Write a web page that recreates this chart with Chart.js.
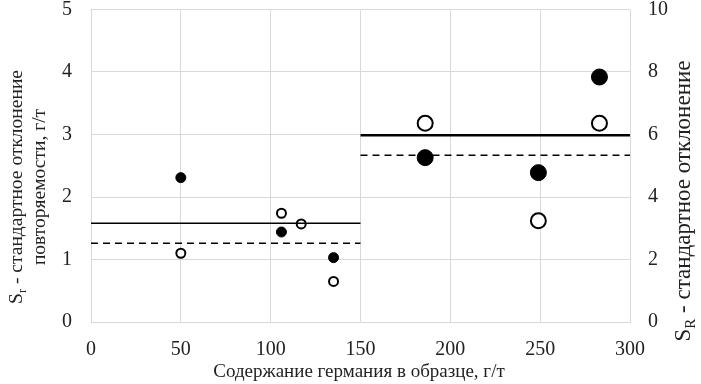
<!DOCTYPE html>
<html>
<head>
<meta charset="utf-8">
<script src="https://cdn.jsdelivr.net/npm/chart.js@4"></script>
<style>
  html, body { margin: 0; padding: 0; background: #fff; }
  #wrap { width: 701px; height: 384px; }
</style>
</head>
<body>
<div id="wrap"><canvas id="chart"></canvas></div>
<script>
// small samples (< 150 g/t)
var xSmall = [50, 106, 135];
var srSmall = [2.31, 1.44, 1.03];          // filled
var xSmallOpen = [50, 106, 117, 135];
var sRSmall = [1.10, 1.74, 1.57, 0.65];    // open

// large samples (> 150 g/t)
var xLarge = [186, 249, 283];
var srLarge = [2.63, 2.39, 3.92];          // filled
var sRLarge = [3.18, 1.62, 3.18];          // open

// horizontal levels
var lowRange = [0, 150];
var highRange = [150, 300];
var solidLow = 1.58, dashedLow = 1.26;
var solidHigh = 2.99, dashedHigh = 2.67;

var xTicks = [0, 50, 100, 150, 200, 250, 300];

function pts(xs, ys) {
    return xs.map(function (x, i) { return { x: x, y: ys[i] }; });
}
function seg(range, v) {
    return [{ x: range[0], y: v }, { x: range[1], y: v }];
}

var FONT = "'Liberation Serif', 'Times New Roman', serif";

// axis titles with subscripts
var titlesPlugin = {
    id: 'titles',
    afterDraw: function (chart) {
        var ctx = chart.ctx;
        function subText(x, y, size, parts) {
            ctx.save();
            ctx.translate(x, y);
            ctx.rotate(-Math.PI / 2);
            ctx.fillStyle = '#222';
            ctx.textBaseline = 'middle';
            ctx.textAlign = 'left';
            var total = 0;
            parts.forEach(function (p) {
                ctx.font = (p.sub ? size * 0.65 : size) + 'px ' + FONT;
                total += ctx.measureText(p.t).width;
            });
            var pos = -total / 2;
            parts.forEach(function (p) {
                ctx.font = (p.sub ? size * 0.65 : size) + 'px ' + FONT;
                ctx.fillText(p.t, pos, p.sub ? size * 0.3 : 0);
                pos += ctx.measureText(p.t).width;
            });
            ctx.restore();
        }
        subText(17, 187, 19.5, [{ t: 'S' }, { t: 'r', sub: true }, { t: ' - стандартное отклонение' }]);
        subText(40, 187, 19.5, [{ t: 'повторяемости, г/т' }]);
        subText(684, 201, 23, [{ t: 'S' }, { t: 'R', sub: true }, { t: ' - стандартное отклонение' }]);

        ctx.save();
        ctx.font = '19px ' + FONT;
        ctx.fillStyle = '#222';
        ctx.textAlign = 'center';
        ctx.textBaseline = 'middle';
        ctx.fillText('Содержание германия в образце, г/т', 359, 372);
        ctx.restore();
    }
};

var bgPlugin = {
    id: 'bg',
    beforeDraw: function (chart) {
        var ctx = chart.ctx;
        ctx.save();
        ctx.fillStyle = '#fff';
        ctx.fillRect(0, 0, chart.width, chart.height);
        ctx.restore();
    }
};

var ctx = document.getElementById('chart').getContext('2d');
new Chart(ctx, {
    type: 'scatter',
    data: {
        datasets: [
            { type: 'line', data: seg(lowRange, solidLow), borderColor: '#000', borderWidth: 1.5, pointRadius: 0 },
            { type: 'line', data: seg(lowRange, dashedLow), borderColor: '#000', borderWidth: 1.5, borderDash: [7, 5], pointRadius: 0 },
            { type: 'line', data: seg(highRange, solidHigh), borderColor: '#000', borderWidth: 2.5, pointRadius: 0 },
            { type: 'line', data: seg(highRange, dashedHigh), borderColor: '#000', borderWidth: 1.5, borderDash: [7, 5], pointRadius: 0 },
            { data: pts(xSmall, srSmall), pointRadius: 5, backgroundColor: '#000', borderColor: '#000', borderWidth: 1 },
            { data: pts(xSmallOpen, sRSmall), pointRadius: 4.5, backgroundColor: '#fff', borderColor: '#000', borderWidth: 2 },
            { data: pts(xLarge, srLarge), pointRadius: 8, backgroundColor: '#000', borderColor: '#000', borderWidth: 1 },
            { data: pts(xLarge, sRLarge), pointRadius: 7.5, backgroundColor: '#fff', borderColor: '#000', borderWidth: 2 }
        ]
    },
    options: {
        responsive: true,
        maintainAspectRatio: false,
        animation: false,
        layout: { padding: { top: 7, left: 0, right: 0, bottom: 0 } },
        plugins: { legend: { display: false }, tooltip: { enabled: false } },
        scales: {
            x: {
                type: 'linear', min: 0, max: 300,
                afterBuildTicks: function (s) { s.ticks = xTicks.map(function (v) { return { value: v }; }); },
                afterFit: function (s) { s.height = 62; },
                grid: { color: '#d9d9d9', lineWidth: 1, drawTicks: false },
                border: { color: '#d9d9d9' },
                ticks: { font: { family: FONT, size: 20 }, color: '#222', padding: 16, maxRotation: 0 }
            },
            y: {
                position: 'left', min: 0, max: 5,
                afterFit: function (s) { s.width = 91; },
                grid: { color: '#d9d9d9', lineWidth: 1, drawTicks: true, tickLength: 19, tickColor: 'rgba(0,0,0,0)' },
                border: { display: false },
                ticks: { stepSize: 1, font: { family: FONT, size: 20, lineHeight: 0.6 }, color: '#222', padding: 0 }
            },
            y2: {
                position: 'right', min: 0, max: 10,
                afterFit: function (s) { s.width = 71; },
                grid: { display: false, drawTicks: true, tickLength: 18 },
                border: { display: false },
                ticks: { stepSize: 2, font: { family: FONT, size: 20, lineHeight: 0.6 }, color: '#222', padding: 0 }
            }
        }
    },
    plugins: [bgPlugin, titlesPlugin]
});
</script>
</body>
</html>
